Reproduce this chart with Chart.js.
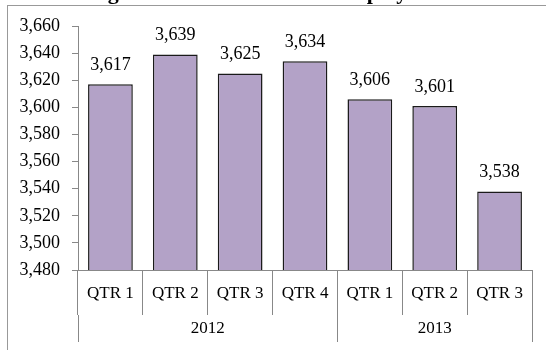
<!DOCTYPE html>
<html>
<head>
<meta charset="utf-8">
<script src="https://cdn.jsdelivr.net/npm/chart.js@4/dist/chart.umd.min.js"></script>
<style>
  html, body { margin: 0; padding: 0; background: #fff; }
  #wrap { width: 546px; height: 350px; position: relative; overflow: hidden; }
</style>
</head>
<body>
<div id="wrap"><canvas id="c" width="546" height="350"></canvas></div>
<script>
// ---- data ----
const titleText = 'Average Number of Full-time Employees';
const quarters = ['QTR 1', 'QTR 2', 'QTR 3', 'QTR 4', 'QTR 1', 'QTR 2', 'QTR 3'];
const values = [3617, 3639, 3625, 3634, 3606, 3601, 3538];
const years = ['2012', '2013'];
const quartersPerYear = [4, 3];
const yMin = 3480, yMax = 3660, yStep = 20;

const fmt = v => Number(v).toLocaleString('en-US');
const SERIF = '"Liberation Serif", "Times New Roman", serif';
const AXIS = '#888888';

// Year axis: half-category slots (2 per quarter) -> 2*N+1 boundary-aligned positions
const nSlots = quarters.length * 2 + 1;
const yearLabels = new Array(nSlots).fill('');
const yearBounds = [0];
let pos = 0;
quartersPerYear.forEach((n, i) => {
  yearLabels[pos + n] = years[i];   // centre of the group
  pos += 2 * n;
  yearBounds.push(pos);
});

const framePlugin = {
  id: 'frame',
  beforeDraw(chart) {
    const ctx = chart.ctx;
    ctx.save();
    ctx.strokeStyle = '#999';
    ctx.lineWidth = 1;
    ctx.strokeRect(7.5, 5.5, chart.width, chart.height + 10);
    // title (clipped at the top, as in the reference)
    ctx.fillStyle = '#000';
    ctx.font = 'bold 22px ' + SERIF;
    ctx.textAlign = 'left';
    ctx.textBaseline = 'alphabetic';
    ctx.fillText(titleText, 52, -1);
    ctx.restore();
  }
};

const valueLabels = {
  id: 'valueLabels',
  afterDatasetsDraw(chart) {
    const ctx = chart.ctx;
    const meta = chart.getDatasetMeta(0);
    ctx.save();
    ctx.fillStyle = '#000';
    ctx.font = '18px ' + SERIF;
    ctx.textAlign = 'center';
    ctx.textBaseline = 'middle';
    meta.data.forEach((el, i) => {
      ctx.fillText(fmt(values[i]), el.x, el.y - 19);
    });
    ctx.restore();
  }
};

new Chart(document.getElementById('c'), {
  type: 'bar',
  data: {
    labels: quarters,
    datasets: [{
      data: values,
      backgroundColor: '#B3A2C7',
      borderColor: '#1a1a1a',
      borderWidth: 1.5,
      barPercentage: 0.69,
      categoryPercentage: 1
    }]
  },
  options: {
    responsive: false,
    animation: false,
    layout: { padding: { left: 8, top: 26, right: 14, bottom: 8 } },
    plugins: { legend: { display: false }, tooltip: { enabled: false }, title: { display: false } },
    scales: {
      y: {
        min: yMin, max: yMax,
        ticks: { stepSize: yStep, padding: 12, color: '#000', font: { family: SERIF, size: 18 }, callback: v => fmt(v) },
        grid: { drawOnChartArea: false, tickLength: 6, color: AXIS },
        border: { color: AXIS },
        afterFit: s => { s.width = 70; }
      },
      x: {
        type: 'category',
        position: 'bottom',
        ticks: { padding: -32, color: '#000', font: { family: SERIF, size: 17 }, maxRotation: 0, autoSkip: false },
        grid: { offset: true, drawOnChartArea: false, tickLength: 45, color: AXIS },
        border: { color: AXIS },
        afterFit: s => { s.height = 45; }
      },
      x2: {
        type: 'category',
        labels: yearLabels,
        position: 'bottom',
        offset: false,
        ticks: { padding: -24, color: '#000', font: { family: SERIF, size: 17 }, maxRotation: 0, autoSkip: false },
        grid: {
          offset: false, drawOnChartArea: false, tickLength: 27,
          color: c => (c.tick && yearBounds.includes(c.index)) ? AXIS : 'rgba(0,0,0,0)'
        },
        border: { display: false },
        afterFit: s => { s.height = 27; }
      }
    }
  },
  plugins: [framePlugin, valueLabels]
});
</script>
</body>
</html>
